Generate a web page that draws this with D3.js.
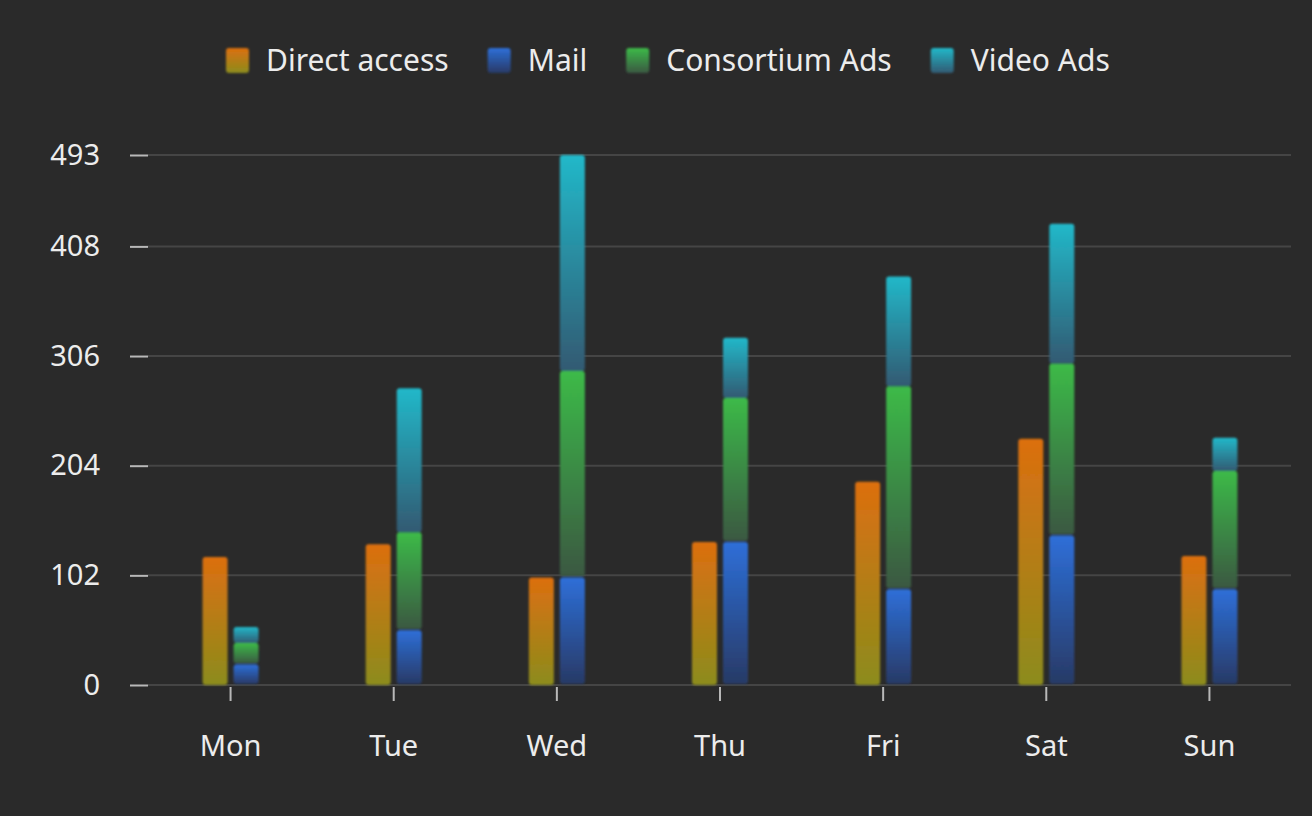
<!DOCTYPE html>
<meta charset="utf-8">
<script src="https://d3js.org/d3.v7.min.js"></script>
<style>
  body { margin: 0; background: #2a2a2a; }
  svg { display: block; background: #2a2a2a; font-family: "Noto Sans", "Open Sans", sans-serif; }
  .grid line { stroke: #454545; stroke-width: 2px; }
  .axis text { fill: #ececec; font-size: 29px; font-family: "Noto Sans", "Open Sans", sans-serif; }
  .axis path { display: none; }
  .axis line { stroke: #b8b8b8; stroke-width: 2px; }
  .legend text { fill: #ececec; font-size: 30px; }
</style>
<body>
<script>

// data
var days = ["Mon", "Tue", "Wed", "Thu", "Fri", "Sat", "Sun"];
var directAccess = [119, 131, 100, 133, 189, 229, 120];
var mail = [19, 51, 100, 133, 89, 139, 89];
var consortiumAds = [20, 91, 192, 134, 189, 160, 110];
var videoAds = [15, 134, 201, 56, 102, 130, 31];
var yTicks = [0, 102, 204, 306, 408, 493];

var seriesNames = ["Direct access", "Mail", "Consortium Ads", "Video Ads"];
var topColors = ["#dc6f10", "#2e6fd8", "#3cba48", "#22b8c9"];
var bottomColors = ["#8c8c1c", "#283a66", "#3a5842", "#325a72"];

var width = 1312, height = 816;

var svg = d3.select("body").append("svg")
    .attr("width", width)
    .attr("height", height);

var defs = svg.append("defs");

seriesNames.forEach(function(name, i) {
  var g = defs.append("linearGradient")
    .attr("id", "grad" + i)
    .attr("x1", 0).attr("y1", 0)
    .attr("x2", 0).attr("y2", 1);
  g.append("stop").attr("offset", "0%").attr("stop-color", topColors[i]);
  g.append("stop").attr("offset", "100%").attr("stop-color", bottomColors[i]);
});

defs.append("filter").attr("id", "soft")
    .attr("x", "-20%").attr("y", "-5%").attr("width", "140%").attr("height", "110%")
  .append("feGaussianBlur").attr("stdDeviation", 0.9);

// scales
var x = d3.scaleBand()
  .domain(days)
  .range([149, 1291]);

var x1 = d3.scaleBand()
  .domain(["direct", "stack"])
  .range([-28, 28])
  .paddingInner(0.194);

var y = d3.scaleLinear()
  .domain([0, 493])
  .range([685, 155]);

// grid lines
svg.append("g")
  .attr("class", "grid")
  .selectAll("line")
  .data(yTicks).enter().append("line")
  .attr("x1", 148)
  .attr("x2", 1291)
  .attr("y1", function(d) { return y(d); })
  .attr("y2", function(d) { return y(d); });

// y axis
var yAxis = d3.axisLeft(y)
  .tickValues(yTicks)
  .tickSize(18)
  .tickPadding(30);

svg.append("g")
  .attr("class", "y axis")
  .attr("transform", "translate(148,0)")
  .call(yAxis);

// x axis
var xAxis = d3.axisBottom(x)
  .tickSize(14)
  .tickPadding(34);

svg.append("g")
  .attr("class", "x axis")
  .attr("transform", "translate(0,687)")
  .call(xAxis);

// build bar segments
var segments = [];
days.forEach(function(day, i) {
  segments.push({ day: day, s: 0, band: "direct", y0: 0, y1: directAccess[i] });
  var base = 0;
  [mail, consortiumAds, videoAds].forEach(function(arr, k) {
    segments.push({ day: day, s: k + 1, band: "stack", y0: base, y1: base + arr[i] });
    base += arr[i];
  });
});

svg.append("g")
  .attr("class", "bars")
  .attr("filter", "url(#soft)")
  .selectAll("rect")
  .data(segments).enter().append("rect")
  .attr("x", function(d) { return x(d.day) + x.bandwidth() / 2 + x1(d.band); })
  .attr("width", x1.bandwidth())
  .attr("y", function(d) { return y(d.y1); })
  .attr("height", function(d) { return y(d.y0) - y(d.y1) - (d.s > 0 && d.s < 3 ? 1 : 0); })
  .attr("rx", 3)
  .style("fill", function(d) { return "url(#grad" + d.s + ")"; });

// legend
var legend = svg.append("g").attr("class", "legend");
var lx = 226;
seriesNames.forEach(function(name, i) {
  var item = legend.append("g").attr("transform", "translate(" + lx + ",0)");
  item.append("rect")
    .attr("x", 0).attr("y", 48)
    .attr("width", 23).attr("height", 25)
    .attr("rx", 3)
    .attr("filter", "url(#soft)")
    .style("fill", "url(#grad" + i + ")");
  var t = item.append("text")
    .attr("x", 40).attr("y", 71)
    .text(name);
  lx += 40 + t.node().getComputedTextLength() + 39;
});

</script>
</body>
